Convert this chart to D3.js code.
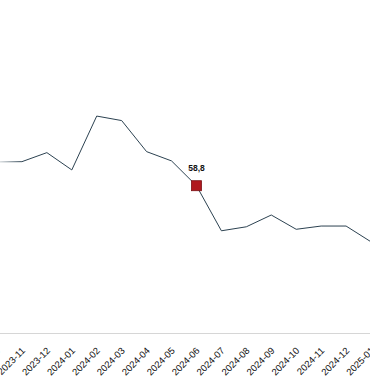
<!DOCTYPE html>
<html>
<head>
<meta charset="utf-8">
<script src="https://cdn.jsdelivr.net/npm/d3@7"></script>
<style>
  body { margin: 0; background: #fff; }
  svg { display: block; }
  .x-axis text { font-family: "Liberation Sans", Arial, sans-serif; font-size: 9.5px; fill: #111; }
</style>
</head>
<body>
<svg></svg>
<script>
const width = 370,
  height = 380;

// monthly values
const months = ["2023-10", "2023-11", "2023-12", "2024-01", "2024-02", "2024-03", "2024-04",
  "2024-05", "2024-06", "2024-07", "2024-08", "2024-09", "2024-10", "2024-11", "2024-12", "2025-01"];
const values = [68.3, 68.4, 72.0, 65.1, 86.6, 84.8, 72.4, 68.7, 58.8, 40.8, 42.4, 47.1, 41.4, 42.7, 42.7, 36.4];
const highlightMonth = "2024-06";

const data = months.map((m, i) => ({ month: m, value: values[i] }));

const svg = d3.select("svg").attr("width", width).attr("height", height);

// x scale, the picture is a crop so the first month sits just left of the edge
const x = d3.scalePoint().domain(months).range([-3, 371]);

const y = d3.scaleLinear().domain([0, 100]).range([333, 82.5]);

// fade on the first segment
const defs = svg.append("defs");
const grad = defs
  .append("linearGradient")
  .attr("id", "fade")
  .attr("gradientUnits", "userSpaceOnUse")
  .attr("x1", 0)
  .attr("x2", width)
  .attr("y1", 0)
  .attr("y2", 0);
grad.append("stop").attr("offset", "0%").attr("stop-color", "#c8ced2");
grad.append("stop").attr("offset", "6%").attr("stop-color", "#2b4150");
grad.append("stop").attr("offset", "100%").attr("stop-color", "#2b4150");

// x axis
const xAxis = svg
  .append("g")
  .attr("class", "x-axis")
  .attr("transform", "translate(0,333)")
  .call(d3.axisBottom(x).tickSize(0).tickPadding(0));

xAxis.select(".domain").attr("stroke", "#d6d6d6").attr("d", `M0,0.5H${width}`);

// rotated labels, their ends sit just below and right of the tick
xAxis
  .selectAll("text")
  .attr("text-anchor", "end")
  .attr("x", 0)
  .attr("y", 0)
  .attr("dx", 0)
  .attr("dy", "0.35em")
  .attr("transform", "translate(1,16) rotate(-45)");

// the line
svg
  .append("path")
  .datum(data)
  .attr("fill", "none")
  .attr("stroke", "url(#fade)")
  .attr("stroke-width", 1)
  .attr(
    "d",
    d3
      .line()
      .x((d) => x(d.month))
      .y((d) => y(d.value))
  );

// highlighted point
const hl = data.find((d) => d.month === highlightMonth);

svg
  .append("rect")
  .attr("x", x(hl.month) - 5)
  .attr("y", y(hl.value) - 5)
  .attr("width", 10)
  .attr("height", 10)
  .attr("fill", "#b0181e")
  .attr("stroke", "#7a1015")
  .attr("stroke-width", 0.8);

svg
  .append("text")
  .attr("x", x(hl.month))
  .attr("y", y(hl.value) - 15)
  .attr("text-anchor", "middle")
  .style("font-family", "Liberation Sans, Arial, sans-serif")
  .style("font-size", "8.5px")
  .style("font-weight", "bold")
  .style("fill", "#111")
  .text(d3.format(".1f")(hl.value).replace(".", ","));
</script>
</body>
</html>
